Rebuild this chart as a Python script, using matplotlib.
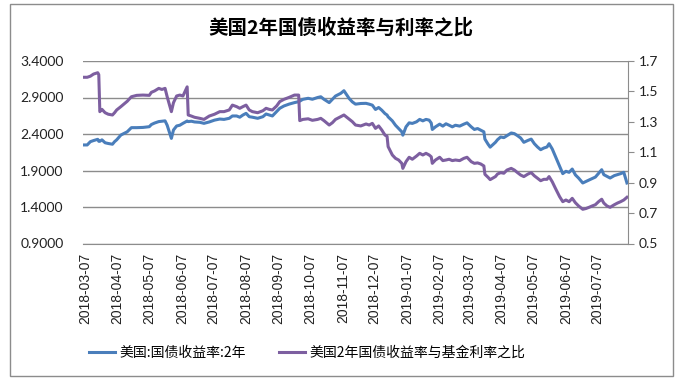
import numpy as np
import pandas as pd
import matplotlib
matplotlib.use("Agg")
import matplotlib.pyplot as plt
from matplotlib.patches import Rectangle

plt.rcParams['font.family'] = ['Noto Sans CJK SC', 'DejaVu Sans']

# values
dates = [
    "2018-03-05", "2018-03-09", "2018-03-12", "2018-03-15", "2018-03-19", "2018-03-20",
    "2018-03-21", "2018-03-23", "2018-03-26", "2018-03-29", "2018-04-02", "2018-04-04",
    "2018-04-06", "2018-04-10", "2018-04-16", "2018-04-20", "2018-04-25", "2018-05-01",
    "2018-05-07", "2018-05-09", "2018-05-12", "2018-05-16", "2018-05-19", "2018-05-22",
    "2018-05-24", "2018-05-28", "2018-05-30", "2018-06-02", "2018-06-05", "2018-06-08",
    "2018-06-12", "2018-06-13", "2018-06-16", "2018-06-19", "2018-06-24", "2018-06-28",
    "2018-07-03", "2018-07-08", "2018-07-13", "2018-07-17", "2018-07-22", "2018-07-25",
    "2018-07-29", "2018-08-01", "2018-08-04", "2018-08-07", "2018-08-10", "2018-08-13",
    "2018-08-18", "2018-08-23", "2018-08-26", "2018-08-29", "2018-09-01", "2018-09-05",
    "2018-09-08", "2018-09-12", "2018-09-17", "2018-09-22", "2018-09-26", "2018-09-27",
    "2018-09-30", "2018-10-05", "2018-10-09", "2018-10-14", "2018-10-17", "2018-10-20",
    "2018-10-25", "2018-10-28", "2018-10-31", "2018-11-05", "2018-11-08", "2018-11-13",
    "2018-11-16", "2018-11-19", "2018-11-24", "2018-11-29", "2018-12-02", "2018-12-05",
    "2018-12-08", "2018-12-11", "2018-12-14", "2018-12-17", "2018-12-19", "2018-12-20",
    "2018-12-24", "2018-12-27", "2018-12-30", "2019-01-02", "2019-01-03", "2019-01-06",
    "2019-01-09", "2019-01-12", "2019-01-16", "2019-01-19", "2019-01-22", "2019-01-25",
    "2019-01-28", "2019-01-30", "2019-01-31", "2019-02-03", "2019-02-07", "2019-02-10",
    "2019-02-13", "2019-02-16", "2019-02-19", "2019-02-22", "2019-02-26", "2019-03-02",
    "2019-03-05", "2019-03-09", "2019-03-12", "2019-03-15", "2019-03-18", "2019-03-21",
    "2019-03-22", "2019-03-25", "2019-03-27", "2019-04-01", "2019-04-03", "2019-04-06",
    "2019-04-09", "2019-04-12", "2019-04-16", "2019-04-19", "2019-04-22", "2019-04-25",
    "2019-04-28", "2019-05-02", "2019-05-05", "2019-05-08", "2019-05-11", "2019-05-14",
    "2019-05-17", "2019-05-20", "2019-05-22", "2019-05-25", "2019-05-28", "2019-06-01",
    "2019-06-04", "2019-06-07", "2019-06-10", "2019-06-13", "2019-06-16", "2019-06-19",
    "2019-06-23", "2019-06-26", "2019-06-29", "2019-07-02", "2019-07-05", "2019-07-08",
    "2019-07-11", "2019-07-13", "2019-07-16", "2019-07-19", "2019-07-23", "2019-07-26",
    "2019-07-29", "2019-08-01", "2019-08-04",
]

yield_2y = [
    2.25, 2.25, 2.295, 2.31, 2.327, 2.30,
    2.30, 2.32, 2.28, 2.27, 2.26, 2.295,
    2.32, 2.386, 2.43, 2.487, 2.487, 2.49,
    2.50, 2.53, 2.55, 2.57, 2.575, 2.58,
    2.52, 2.34, 2.455, 2.51, 2.52, 2.546,
    2.578, 2.57, 2.575, 2.565, 2.56, 2.546,
    2.565, 2.59, 2.605, 2.60, 2.615, 2.647,
    2.647, 2.63, 2.66, 2.683, 2.637, 2.63,
    2.615, 2.637, 2.674, 2.66, 2.647, 2.706,
    2.752, 2.784, 2.81, 2.83, 2.843, 2.85,
    2.875, 2.889, 2.876, 2.90, 2.91, 2.876,
    2.83, 2.876, 2.92, 2.957, 2.993, 2.886,
    2.84, 2.809, 2.818, 2.82, 2.809, 2.795,
    2.736, 2.763, 2.726, 2.68, 2.66, 2.635,
    2.58, 2.52, 2.475, 2.43, 2.384, 2.498,
    2.553, 2.545, 2.567, 2.60, 2.58, 2.60,
    2.59, 2.55, 2.462, 2.498, 2.535, 2.508,
    2.54, 2.52, 2.498, 2.52, 2.508, 2.535,
    2.553, 2.498, 2.462, 2.475, 2.452, 2.43,
    2.33, 2.26, 2.22, 2.286, 2.322, 2.359,
    2.35, 2.377, 2.414, 2.405, 2.377, 2.345,
    2.286, 2.313, 2.33, 2.267, 2.222, 2.185,
    2.208, 2.222, 2.267, 2.195, 2.094, 1.957,
    1.857, 1.889, 1.875, 1.92, 1.84, 1.797,
    1.729, 1.75, 1.77, 1.79, 1.81, 1.86,
    1.911, 1.843, 1.82, 1.797, 1.83, 1.843,
    1.857, 1.875, 1.729,
]

ratio = [
    1.593, 1.593, 1.600, 1.614, 1.623, 1.610,
    1.367, 1.382, 1.360, 1.350, 1.345, 1.360,
    1.378, 1.400, 1.435, 1.465, 1.474, 1.476,
    1.474, 1.494, 1.503, 1.520, 1.513, 1.520,
    1.465, 1.367, 1.426, 1.470, 1.476, 1.470,
    1.530, 1.345, 1.338, 1.330, 1.323, 1.316,
    1.338, 1.350, 1.367, 1.367, 1.378, 1.410,
    1.400, 1.389, 1.400, 1.410, 1.378, 1.367,
    1.360, 1.373, 1.389, 1.382, 1.378, 1.404,
    1.433, 1.448, 1.461, 1.476, 1.476, 1.308,
    1.316, 1.320, 1.310, 1.316, 1.323, 1.308,
    1.279, 1.294, 1.316, 1.334, 1.345, 1.317,
    1.301, 1.279, 1.273, 1.286, 1.279, 1.290,
    1.257, 1.273, 1.246, 1.213, 1.205, 1.137,
    1.082, 1.060, 1.049, 1.027, 0.994, 1.038,
    1.067, 1.054, 1.075, 1.093, 1.082, 1.093,
    1.082, 1.070, 1.027, 1.049, 1.067, 1.045,
    1.049, 1.054, 1.045, 1.049, 1.045, 1.060,
    1.067, 1.038, 1.027, 1.030, 1.023, 1.010,
    0.955, 0.935, 0.920, 0.940, 0.957, 0.966,
    0.962, 0.983, 0.994, 0.983, 0.966, 0.950,
    0.940, 0.957, 0.966, 0.945, 0.929, 0.913,
    0.922, 0.922, 0.940, 0.906, 0.863, 0.808,
    0.775, 0.786, 0.775, 0.797, 0.768, 0.747,
    0.725, 0.730, 0.738, 0.747, 0.755, 0.775,
    0.791, 0.766, 0.747, 0.738, 0.755, 0.766,
    0.775, 0.786, 0.804,
]

tick_labels = [
    "2018-03-07", "2018-04-07", "2018-05-07", "2018-06-07", "2018-07-07", "2018-08-07",
    "2018-09-07", "2018-10-07", "2018-11-07", "2018-12-07", "2019-01-07", "2019-02-07",
    "2019-03-07", "2019-04-07", "2019-05-07", "2019-06-07", "2019-07-07",
]
left_ticks = [0.9, 1.4, 1.9, 2.4, 2.9, 3.4]
right_ticks = [0.5, 0.7, 0.9, 1.1, 1.3, 1.5, 1.7]

blue = "#4a7ebb"
purple = "#7d5fa0"
grey = "#8c8c8c"

x = pd.to_datetime(dates)

fig = plt.figure(figsize=(6.78, 3.84), dpi=100)
ax = fig.add_axes([83 / 678, 1 - 243.5 / 384, 545 / 678, 182.5 / 384])
ax2 = ax.twinx()

l1, = ax.plot(x, yield_2y, color=blue, lw=2.2, label="美国:国债收益率:2年")
l2, = ax2.plot(x, ratio, color=purple, lw=2.2, label="美国2年国债收益率与基金利率之比")

ax.set_xlim(pd.Timestamp("2018-03-05"), pd.Timestamp("2019-08-05"))
ax.set_ylim(0.9, 3.4)
ax2.set_ylim(0.5, 1.7)
ax.set_yticks(left_ticks)
ax.set_yticklabels([f"{v:.4f}" for v in left_ticks], family="Lato", fontsize=10)
ax2.set_yticks(right_ticks)
ax2.set_yticklabels([f"{v:.1f}" for v in right_ticks], family="Lato", fontsize=10)
ax.set_xticks(pd.to_datetime(tick_labels))
ax.set_xticklabels(tick_labels, rotation=90, family="Liberation Sans", fontsize=10)

ax.grid(axis="y", color=grey, lw=1)
ax.set_axisbelow(True)
for a in (ax, ax2):
    for s in ("top", "left"):
        a.spines[s].set_visible(False)
    a.spines["bottom"].set_color(grey)
    a.spines["right"].set_color(grey)
ax.spines["right"].set_visible(False)
ax2.spines["bottom"].set_visible(False)
ax.tick_params(axis="y", length=0, pad=14, colors="#222222")
ax.tick_params(axis="x", length=0, pad=7, colors="#222222")
ax2.tick_params(axis="y", length=4, pad=4, color=grey, labelcolor="#222222")

fig.text(341 / 678, 1 - 28 / 384, "美国2年国债收益率与利率之比", ha="center", va="center",
         fontsize=14, fontweight="bold", family=["Noto Sans CJK SC", "DejaVu Sans"])

fig.legend(handles=[l1, l2], loc="center", bbox_to_anchor=(307 / 678, 1 - 353 / 384),
           ncol=2, frameon=False, handlelength=1.9, handletextpad=0.3,
           columnspacing=2.4, prop={"family": ["Noto Sans CJK SC", "DejaVu Sans"], "size": 10})

fig.patches.append(Rectangle((10 / 678, 1 - 376 / 384), 663 / 678, 372 / 384,
                             transform=fig.transFigure, fill=False,
                             edgecolor=grey, lw=1))

fig.savefig("out.png", dpi=100)
